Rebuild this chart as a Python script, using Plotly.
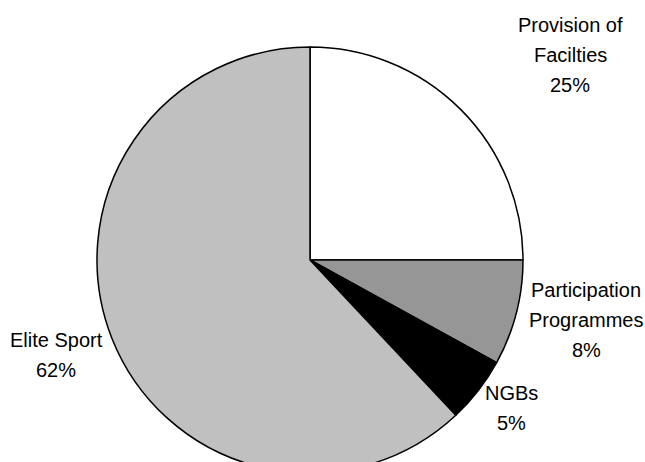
import plotly.graph_objects as go

categories = ["Provision of Facilties", "Participation Programmes", "NGBs", "Elite Sport"]
values = [25, 8, 5, 62]
colors = ["#ffffff", "#969696", "#000000", "#c0c0c0"]

# label lines (text) for each slice
label_lines = [
    ["Provision of", "Facilties", "25%"],
    ["Participation", "Programmes", "8%"],
    ["NGBs", "5%"],
    ["Elite Sport", "62%"],
]

W, H = 645, 473
# label anchor (pixel centre of first line) and line spacing
label_pos = [(570, 25), (586, 290), (511, 393), (56, 340)]
line_gap = 30

fig = go.Figure(go.Pie(
    labels=categories,
    values=values,
    marker=dict(colors=colors, line=dict(color="#000000", width=1.5)),
    sort=False,
    direction="clockwise",
    rotation=0,
    textinfo="none",
    hoverinfo="label+percent",
    domain=dict(x=[97 / W, 523 / W], y=[0, (H - 47) / H]),
    showlegend=False,
))

annotations = []
for lines, (px, py) in zip(label_lines, label_pos):
    for i, t in enumerate(lines):
        annotations.append(dict(
            x=px / W, y=1 - (py + i * line_gap) / H,
            xref="paper", yref="paper", text=t, showarrow=False,
            xanchor="center", yanchor="middle",
            font=dict(family="Liberation Sans, Arial, sans-serif", size=20, color="#000000"),
        ))

fig.update_layout(
    width=W, height=H,
    margin=dict(l=0, r=0, t=0, b=0),
    paper_bgcolor="#ffffff",
    plot_bgcolor="#ffffff",
    annotations=annotations,
)

fig.write_html(
    "out.html",
    config={"displayModeBar": False},
    post_script="document.body.style.margin='0';document.body.style.overflow='hidden';document.documentElement.style.overflow='hidden';",
)
